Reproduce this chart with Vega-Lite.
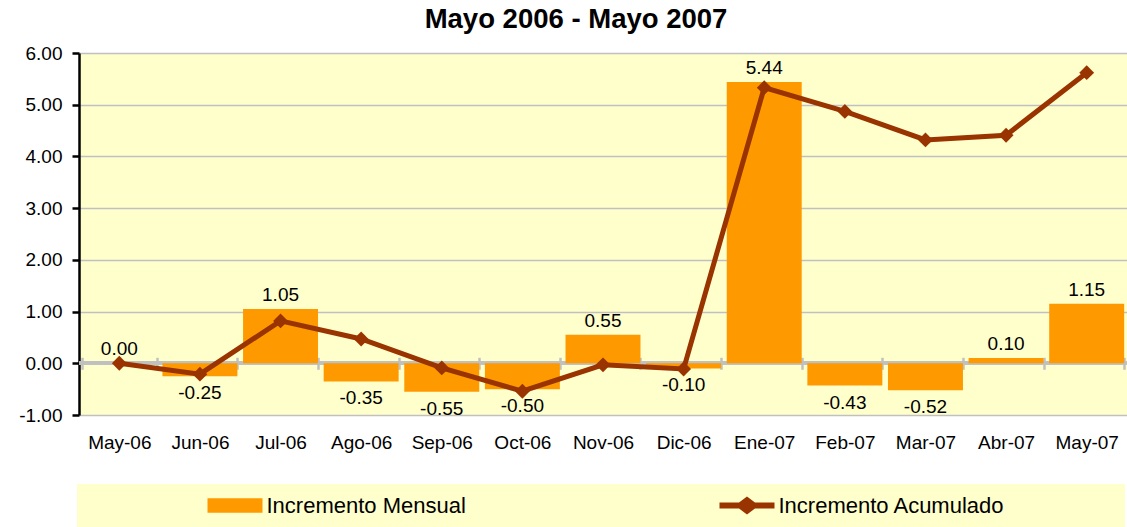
{
  "$schema": "https://vega.github.io/schema/vega-lite/v6.json",
  "autosize": "none",
  "width": 1048,
  "height": 362,
  "padding": {"left": 79, "top": 53, "right": 0, "bottom": 112},
  "background": "white",
  "title": {
    "text": "Mayo 2006 - Mayo 2007",
    "font": "Liberation Sans",
    "fontSize": 27.5,
    "fontWeight": "bold",
    "color": "black",
    "anchor": "middle",
    "frame": "group",
    "baseline": "alphabetic",
    "offset": -11,
    "dx": -27
  },
  "data": {
    "values": [
      {"Mes": "May-06", "Mensual": 0.00, "Acumulado": 0.00},
      {"Mes": "Jun-06", "Mensual": -0.25, "Acumulado": -0.21},
      {"Mes": "Jul-06", "Mensual": 1.05, "Acumulado": 0.82},
      {"Mes": "Ago-06", "Mensual": -0.35, "Acumulado": 0.47},
      {"Mes": "Sep-06", "Mensual": -0.55, "Acumulado": -0.09},
      {"Mes": "Oct-06", "Mensual": -0.50, "Acumulado": -0.54},
      {"Mes": "Nov-06", "Mensual": 0.55, "Acumulado": -0.03},
      {"Mes": "Dic-06", "Mensual": -0.10, "Acumulado": -0.11},
      {"Mes": "Ene-07", "Mensual": 5.44, "Acumulado": 5.33},
      {"Mes": "Feb-07", "Mensual": -0.43, "Acumulado": 4.87},
      {"Mes": "Mar-07", "Mensual": -0.52, "Acumulado": 4.32},
      {"Mes": "Abr-07", "Mensual": 0.10, "Acumulado": 4.41},
      {"Mes": "May-07", "Mensual": 1.15, "Acumulado": 5.62}
    ]
  },
  "encoding": {
    "x": {
      "field": "Mes",
      "type": "nominal",
      "sort": null,
      "title": null,
      "scale": {"paddingInner": 0.07, "paddingOuter": 0.035},
      "axis": {
        "orient": "bottom",
        "offset": -57.7,
        "domain": false,
        "ticks": true,
        "tickBand": "extent",
        "tickColor": "#C0C0C0",
        "tickWidth": 2.5,
        "tickSize": 12,
        "labelAngle": 0,
        "labelPadding": 64,
        "labelFont": "Liberation Sans",
        "labelFontSize": 19,
        "labelColor": "black",
        "grid": false
      }
    }
  },
  "layer": [
    {
      "mark": {"type": "rule", "color": "#C0C0C0", "strokeWidth": 3},
      "encoding": {"y": {"datum": 0, "type": "quantitative"}, "x": null}
    },
    {
      "mark": {"type": "bar"},
      "encoding": {
        "y": {
          "field": "Mensual",
          "type": "quantitative",
          "title": null,
          "scale": {"domain": [-1, 6], "nice": false, "zero": false},
          "axis": {
            "values": [-1, 0, 1, 2, 3, 4, 5, 6],
            "format": ".2f",
            "domain": true,
            "domainColor": "black",
            "domainWidth": 2.5,
            "ticks": true,
            "tickColor": "black",
            "tickWidth": 2.5,
            "tickSize": 7,
            "labelFont": "Liberation Sans",
            "labelFontSize": 19,
            "labelColor": "black",
            "labelPadding": 10,
            "grid": true,
            "gridColor": "#C0C0C0",
            "gridWidth": 1.5
          }
        },
        "color": {
          "datum": "Incremento Mensual",
          "type": "nominal",
          "scale": {
            "domain": ["Incremento Mensual", "Incremento Acumulado"],
            "range": ["#FF9900", "#993300"]
          },
          "legend": {
            "title": " ",
            "titleOrient": "right",
            "titlePadding": 109,
            "orient": "none",
            "legendX": -2,
            "legendY": 431,
            "direction": "horizontal",
            "columnPadding": 134,
            "fillColor": "#FFFFCC",
            "strokeColor": null,
            "padding": 11.5,
            "clipHeight": 20,
            "symbolOffset": 119,
            "labelOffset": 4,
            "labelFont": "Liberation Sans",
            "labelFontSize": 22,
            "labelLimit": 500,
            "labelColor": "black",
            "symbolSize": 3025,
            "encode": {
              "symbols": {
                "update": {
                  "shape": {"signal": "datum.value === 'Incremento Mensual' ? 'M-1,-0.26H1V0.26H-1Z' : 'M-1,-0.11H-0.29L0,-0.33L0.29,-0.11H1V0.11H0.29L0,0.33L-0.29,0.11H-1Z'"},
                  "fill": {"signal": "datum.value === 'Incremento Mensual' ? '#FF9900' : '#993300'"},
                  "stroke": {"value": "transparent"},
                  "strokeWidth": {"value": 0},
                  "opacity": {"value": 1}
                }
              }
            }
          }
        }
      }
    },
    {
      "mark": {
        "type": "line",
        "strokeWidth": 5,
        "point": {"shape": "diamond", "size": 220, "filled": true, "color": "#993300", "opacity": 1}
      },
      "encoding": {
        "y": {"field": "Acumulado", "type": "quantitative"},
        "color": {"datum": "Incremento Acumulado", "type": "nominal"}
      }
    },
    {
      "transform": [{"filter": "datum.Mensual >= 0"}],
      "mark": {"type": "text", "baseline": "alphabetic", "dy": -8, "font": "Liberation Sans", "fontSize": 19, "color": "black"},
      "encoding": {
        "y": {"field": "Mensual", "type": "quantitative"},
        "text": {"field": "Mensual", "type": "quantitative", "format": ".2f"}
      }
    },
    {
      "transform": [{"filter": "datum.Mensual < 0"}],
      "mark": {"type": "text", "baseline": "top", "dy": 8, "font": "Liberation Sans", "fontSize": 19, "color": "black"},
      "encoding": {
        "y": {"field": "Mensual", "type": "quantitative"},
        "text": {"field": "Mensual", "type": "quantitative", "format": ".2f"}
      }
    }
  ],
  "config": {
    "view": {"fill": "#FFFFCC", "stroke": null},
    "locale": {"number": {"decimal": ".", "thousands": ",", "grouping": [3], "currency": ["$", ""], "minus": "-"}}
  }
}
